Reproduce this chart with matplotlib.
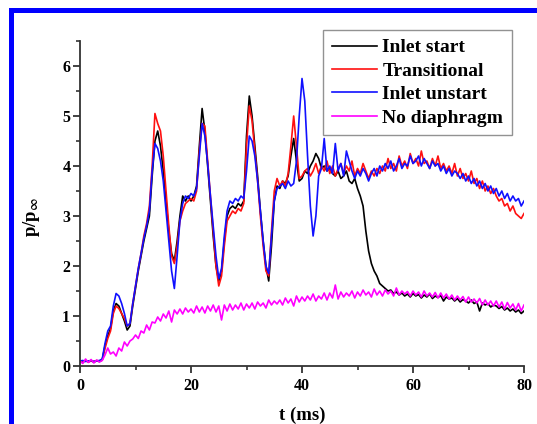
import numpy as np
import matplotlib
matplotlib.use("Agg")
import matplotlib.pyplot as plt
from matplotlib.patches import Rectangle

plt.rcParams['font.family'] = ['Liberation Serif', 'DejaVu Serif']
plt.rcParams['font.weight'] = 'bold'
plt.rcParams['mathtext.fontset'] = 'stix'

# time grid (ms), 0.5 ms sampling
t_ms = np.arange(0, 80.01, 0.5)

inlet_start = [
    0.10, 0.08, 0.10, 0.09, 0.10, 0.08, 0.10, 0.09, 0.12, 0.40,
    0.60, 0.75, 1.10, 1.25, 1.20, 1.05, 0.90, 0.72, 0.80, 1.20,
    1.55, 1.90, 2.20, 2.50, 2.75, 3.00, 3.80, 4.50, 4.70, 4.40,
    3.90, 3.30, 2.70, 2.25, 2.10, 2.50, 3.00, 3.40, 3.30, 3.40,
    3.30, 3.40, 3.60, 4.40, 5.15, 4.70, 4.00, 3.30, 2.60, 2.00,
    1.70, 1.90, 2.50, 3.00, 3.15, 3.20, 3.15, 3.25, 3.20, 3.30,
    4.60, 5.40, 5.00, 4.40, 3.80, 3.10, 2.50, 2.00, 1.70, 2.40,
    3.30, 3.60, 3.55, 3.70, 3.65, 3.80, 4.20, 4.55, 4.10, 3.70,
    3.75, 3.90, 3.85, 4.00, 4.10, 4.25, 4.15, 3.95, 4.00, 3.90,
    3.95, 3.85, 3.80, 3.90, 3.75, 3.80, 3.90, 3.70, 3.65, 3.75,
    3.55, 3.40, 3.20, 2.70, 2.30, 2.05, 1.90, 1.80, 1.65, 1.60,
    1.55, 1.50, 1.52, 1.45, 1.48, 1.42, 1.46, 1.40, 1.44, 1.38,
    1.45, 1.40, 1.43, 1.36, 1.42, 1.38, 1.44, 1.35, 1.40, 1.37,
    1.41, 1.30, 1.38, 1.34, 1.36, 1.30, 1.35, 1.28, 1.33, 1.30,
    1.26, 1.32, 1.25, 1.28, 1.10, 1.26, 1.22, 1.25, 1.18, 1.22,
    1.20, 1.15, 1.19, 1.12, 1.16, 1.10, 1.14, 1.08, 1.12, 1.05,
    1.10,
]

transitional = [
    0.10, 0.09, 0.11, 0.08, 0.10, 0.09, 0.11, 0.10, 0.12, 0.35,
    0.55, 0.70, 1.05, 1.20, 1.15, 1.05, 0.95, 0.80, 0.85, 1.25,
    1.60, 1.95, 2.25, 2.60, 2.85, 3.20, 4.00, 5.05, 4.85, 4.70,
    4.20, 3.50, 2.80, 2.20, 2.05, 2.40, 2.90, 3.10, 3.25, 3.30,
    3.35, 3.30, 3.50, 4.30, 4.85, 4.80, 4.10, 3.40, 2.70, 2.00,
    1.60, 1.80, 2.40, 2.90, 3.00, 3.10, 3.05, 3.15, 3.10, 3.25,
    4.40, 5.20, 4.90, 4.30, 3.70, 3.00, 2.40, 1.90, 1.80, 2.70,
    3.50, 3.75, 3.60, 3.70, 3.60, 3.85, 4.40, 5.00, 4.40, 3.75,
    3.80, 3.90, 3.95, 3.80, 3.90, 4.05, 3.85, 4.00, 3.90, 4.10,
    3.85, 4.00, 3.80, 3.95, 4.05, 3.85, 4.00, 3.90, 4.10, 3.80,
    3.95, 3.85, 4.05, 3.90, 3.75, 3.90, 3.80, 3.95, 3.85, 4.00,
    3.90, 4.15, 3.95, 4.05, 3.90, 4.20, 4.00, 4.10, 3.95, 4.25,
    4.05, 4.15, 4.00, 4.30, 4.05, 4.10, 3.95, 4.15, 4.00, 4.20,
    3.95, 4.05, 3.90, 4.00, 3.85, 4.05, 3.80, 3.95, 3.75, 3.85,
    3.70, 3.90, 3.65, 3.75, 3.55, 3.70, 3.50, 3.60, 3.45, 3.55,
    3.40, 3.30, 3.35, 3.20, 3.25, 3.10, 3.20, 3.05, 3.00, 2.95,
    3.05,
]

inlet_unstart = [
    0.10, 0.11, 0.09, 0.10, 0.11, 0.09, 0.10, 0.11, 0.14, 0.45,
    0.70, 0.80, 1.20, 1.45, 1.40, 1.25, 1.05, 0.80, 0.85, 1.25,
    1.60, 1.95, 2.25, 2.55, 2.80, 3.10, 3.90, 4.45, 4.35, 4.10,
    3.70, 3.10, 2.50, 1.90, 1.55, 2.20, 2.90, 3.25, 3.40, 3.35,
    3.45, 3.40, 3.55, 4.20, 4.85, 4.60, 4.05, 3.40, 2.80, 2.20,
    1.75, 1.95, 2.60, 3.10, 3.30, 3.25, 3.35, 3.30, 3.40, 3.35,
    3.90, 4.60, 4.50, 4.20, 3.70, 3.10, 2.50, 2.00, 1.85, 2.60,
    3.30, 3.55, 3.60, 3.65, 3.55, 3.70, 3.60, 3.65, 4.10, 5.00,
    5.75, 5.30, 4.20, 3.20, 2.60, 3.00, 3.80, 3.95, 4.55, 3.90,
    4.00, 3.85, 4.45, 3.90, 4.05, 3.80, 4.30, 4.10, 3.90, 3.75,
    3.90, 3.80, 3.95, 3.85, 3.70, 3.85, 3.95, 3.80, 4.00, 3.90,
    4.05, 3.95, 4.10, 3.90, 4.00, 4.15, 3.95, 4.05, 4.00, 4.20,
    4.05, 4.10, 4.20, 4.00, 4.15, 4.05, 3.95, 4.10, 4.00, 4.05,
    3.90, 4.00, 3.85, 3.95, 3.80, 3.90, 3.85, 3.75, 3.85, 3.70,
    3.80, 3.65, 3.75, 3.60, 3.70, 3.55, 3.65, 3.50, 3.60, 3.45,
    3.55, 3.40, 3.50, 3.35, 3.45, 3.30, 3.40, 3.30, 3.35, 3.20,
    3.30,
]

no_diaphragm = [
    0.10, 0.05, 0.14, 0.07, 0.13, 0.06, 0.12, 0.08, 0.11, 0.22,
    0.36, 0.24, 0.28, 0.20, 0.36, 0.30, 0.48, 0.40, 0.50, 0.54,
    0.62, 0.55, 0.70, 0.66, 0.82, 0.72, 0.88, 0.86, 0.98, 0.90,
    1.04, 0.96, 1.10, 0.88, 1.12, 1.04, 1.14, 1.04, 1.16, 1.08,
    1.14, 1.06, 1.20, 1.08, 1.18, 1.06, 1.20, 1.10, 1.22, 1.08,
    1.20, 0.92, 1.22, 1.10, 1.24, 1.12, 1.22, 1.14, 1.26, 1.12,
    1.24, 1.16, 1.26, 1.14, 1.28, 1.20, 1.26, 1.16, 1.32, 1.22,
    1.30, 1.24, 1.32, 1.22, 1.36, 1.26, 1.34, 1.20, 1.40, 1.28,
    1.38, 1.30, 1.40, 1.32, 1.44, 1.30, 1.40, 1.34, 1.46, 1.32,
    1.46, 1.36, 1.62, 1.34, 1.48, 1.38, 1.46, 1.40, 1.50, 1.36,
    1.48, 1.40, 1.52, 1.42, 1.48, 1.38, 1.54, 1.42, 1.50, 1.40,
    1.52, 1.44, 1.50, 1.40, 1.56, 1.42, 1.50, 1.44, 1.49, 1.40,
    1.50, 1.42, 1.48, 1.38, 1.50, 1.40, 1.46, 1.38, 1.47, 1.36,
    1.46, 1.36, 1.44, 1.34, 1.42, 1.32, 1.40, 1.32, 1.39, 1.28,
    1.38, 1.28, 1.34, 1.26, 1.35, 1.22, 1.32, 1.22, 1.30, 1.20,
    1.30, 1.18, 1.28, 1.14, 1.27, 1.16, 1.24, 1.12, 1.25, 1.10,
    1.22,
]

labels = ["Inlet start", "Transitional", "Inlet unstart", "No diaphragm"]
colors = ["#000000", "#ff1010", "#1010ff", "#ff00ff"]
x_ticks = [0, 20, 40, 60, 80]
y_ticks = [0, 1, 2, 3, 4, 5, 6]

fig = plt.figure(figsize=(5.37, 4.24), dpi=100)
ax = fig.add_axes([0.149, 0.1368, 0.8268, 0.7665])

for series, lab, col in zip([inlet_start, transitional, inlet_unstart, no_diaphragm], labels, colors):
    ax.plot(t_ms, series, color=col, lw=1.2, label=lab)

ax.set_xlim(0, 80)
ax.set_ylim(0, 6.5)
ax.set_xticks(x_ticks)
ax.set_yticks(y_ticks)
ax.set_xticks([10, 30, 50, 70], minor=True)
ax.set_yticks([0.5, 1.5, 2.5, 3.5, 4.5, 5.5, 6.5], minor=True)
ax.spines['top'].set_visible(False)
ax.spines['right'].set_visible(False)
for s in ['left', 'bottom']:
    ax.spines[s].set_linewidth(1.3)
    ax.spines[s].set_color('#333333')
ax.tick_params(which='major', direction='out', length=5, width=1.3, color='#333333',
               labelsize=11.5)
ax.tick_params(axis='x', which='major', pad=4)
ax.tick_params(axis='y', which='major', pad=2)
ax.tick_params(which='minor', direction='out', length=3, width=1.2, color='#333333')
for lbl in ax.get_xticklabels() + ax.get_yticklabels():
    lbl.set_fontweight('bold')

ax.set_xlabel("t (ms)", fontsize=13.5, fontweight='bold', labelpad=9)
ax.set_ylabel(r"p/p$_{\infty}$", fontsize=13.5, fontweight='bold')
ax.yaxis.set_label_coords(-0.085, 0.46)

leg = ax.legend(loc='upper right', bbox_to_anchor=(0.973, 1.034), borderaxespad=0,
                frameon=True, fancybox=False, edgecolor='#777777',
                handlelength=2.3, handletextpad=0.3, labelspacing=0.3, borderpad=0.45,
                prop={'weight': 'bold', 'size': 14})
leg.get_frame().set_linewidth(1.0)

# blue frame (cropped at right/bottom)
fig.patches.append(Rectangle((9/537, 0), 5/537, (424-8)/424, transform=fig.transFigure,
                             facecolor='#0000ff', edgecolor='none', zorder=10))
fig.patches.append(Rectangle((9/537, (424-13)/424), 1 - 9/537, 5/424, transform=fig.transFigure,
                             facecolor='#0000ff', edgecolor='none', zorder=10))

fig.savefig("out.png", dpi=100)
